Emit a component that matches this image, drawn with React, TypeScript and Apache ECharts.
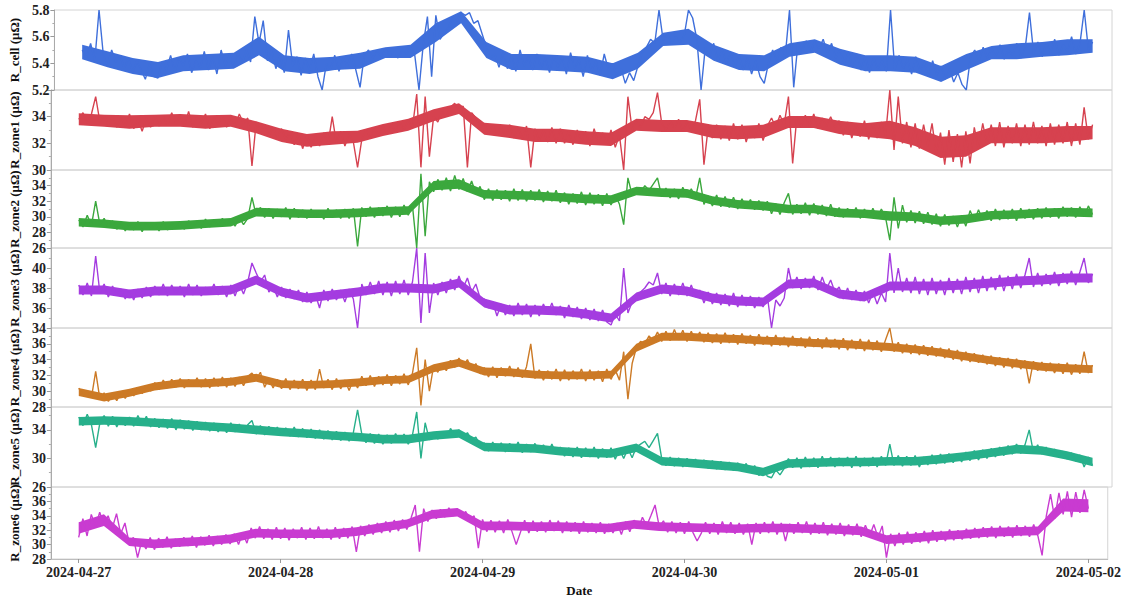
import React, { useEffect, useRef } from "react";
import * as echarts from "echarts";

// Sampling: every 30 minutes from 2024-04-27 00:00 to 2024-05-02 00:00 (241 points)
const dayLabels = ["2024-04-27", "2024-04-28", "2024-04-29", "2024-04-30", "2024-05-01", "2024-05-02"];

const rCell = [
  5.50, 5.44, 5.55, 5.42, 5.80, 5.47, 5.38, 5.50, 5.41, 5.46, 5.36, 5.44,
  5.33, 5.42, 5.35, 5.28, 5.40, 5.30, 5.29, 5.41, 5.35, 5.46, 5.34, 5.44,
  5.38, 5.47, 5.33, 5.42, 5.36, 5.49, 5.35, 5.45, 5.32, 5.50, 5.38, 5.46,
  5.37, 5.48, 5.40, 5.50, 5.41, 5.75, 5.55, 5.72, 5.42, 5.50, 5.36, 5.46,
  5.33, 5.65, 5.38, 5.45, 5.31, 5.44, 5.35, 5.47, 5.30, 5.20, 5.40, 5.36,
  5.46, 5.34, 5.44, 5.38, 5.47, 5.35, 5.22, 5.46, 5.50, 5.44, 5.49, 5.45,
  5.51, 5.46, 5.48, 5.44, 5.50, 5.47, 5.52, 5.46, 5.20, 5.54, 5.75, 5.30,
  5.76, 5.58, 5.63, 5.67, 5.74, 5.72, 5.78, 5.76, 5.78, 5.70, 5.72, 5.62,
  5.52, 5.44, 5.47, 5.37, 5.48, 5.36, 5.46, 5.34, 5.50, 5.38, 5.45, 5.35,
  5.47, 5.36, 5.44, 5.33, 5.46, 5.37, 5.45, 5.32, 5.48, 5.36, 5.43, 5.30,
  5.46, 5.34, 5.42, 5.31, 5.47, 5.35, 5.40, 5.30, 5.36, 5.25, 5.33, 5.27,
  5.38, 5.48, 5.52, 5.58, 5.55, 5.80, 5.57, 5.62, 5.55, 5.60, 5.56, 5.61,
  5.80, 5.74, 5.58, 5.20, 5.52, 5.45, 5.55, 5.42, 5.51, 5.40, 5.48, 5.37,
  5.46, 5.35, 5.44, 5.32, 5.42, 5.30, 5.25, 5.40, 5.50, 5.42, 5.52, 5.46,
  5.80, 5.22, 5.55, 5.50, 5.57, 5.49, 5.56, 5.51, 5.58, 5.48, 5.55, 5.44,
  5.50, 5.40, 5.48, 5.37, 5.47, 5.35, 5.45, 5.33, 5.44, 5.36, 5.42, 5.34,
  5.80, 5.35, 5.46, 5.36, 5.43, 5.32, 5.45, 5.34, 5.40, 5.30, 5.42, 5.31,
  5.38, 5.28, 5.36, 5.26, 5.33, 5.24, 5.20, 5.45, 5.50, 5.42, 5.52, 5.44,
  5.51, 5.45, 5.54, 5.43, 5.50, 5.46, 5.55, 5.44, 5.52, 5.78, 5.47, 5.56,
  5.45, 5.55, 5.48, 5.58, 5.46, 5.54, 5.49, 5.60, 5.47, 5.55, 5.80, 5.50,
  5.56,
];

const rZone1 = [
  33.8, 34.3, 33.5, 34.2, 35.5, 33.6, 34.1, 33.4, 34.0, 33.2, 33.9, 33.3,
  34.2, 33.1, 33.8, 32.9, 33.9, 33.2, 34.1, 33.3, 34.0, 33.4, 34.3, 33.5,
  34.1, 33.3, 34.4, 33.2, 34.0, 33.5, 34.2, 33.1, 33.9, 33.4, 34.1, 33.2,
  34.0, 33.3, 34.2, 33.5, 33.9, 30.3, 33.6, 32.9, 33.4, 32.6, 33.2, 32.5,
  33.1, 32.3, 32.8, 31.9, 32.7, 31.6, 32.6, 31.7, 32.5, 31.8, 32.8, 31.9,
  34.0, 32.0, 32.9, 31.8, 32.7, 32.1, 30.2, 32.3, 33.0, 32.4, 33.1, 32.6,
  33.3, 32.7, 33.4, 32.9, 33.6, 33.0, 33.7, 33.2, 35.7, 30.2, 35.5, 31.0,
  34.0, 33.6, 34.4, 34.0, 34.7, 35.0, 34.5, 34.8, 30.2, 34.3, 33.9, 33.2,
  33.5, 32.7, 33.4, 32.6, 33.3, 32.5, 33.4, 32.4, 33.2, 32.3, 33.3, 30.2,
  33.1, 32.2, 33.0, 32.1, 33.2, 32.0, 33.1, 32.0, 32.9, 31.9, 33.0, 32.1,
  32.9, 31.8, 33.1, 32.0, 32.8, 31.9, 33.0, 31.7, 32.6, 30.0, 35.5, 33.0,
  33.6, 33.2, 34.0, 33.8, 34.3, 35.8, 33.5, 33.0, 33.7, 33.1, 33.8, 32.9,
  33.6, 33.0, 33.7, 35.3, 30.4, 33.2, 32.4, 33.4, 32.3, 33.3, 32.2, 33.5,
  32.3, 33.4, 32.1, 33.2, 32.4, 33.5, 32.2, 33.3, 33.9, 33.2, 34.1, 33.4,
  35.5, 30.5, 34.0, 33.2, 34.1, 33.3, 34.2, 33.1, 33.9, 33.3, 34.0, 33.2,
  33.7, 32.6, 33.6, 32.4, 33.5, 32.5, 33.7, 32.3, 33.5, 32.4, 33.6, 32.6,
  36.0, 31.5, 35.5, 32.0, 33.6, 31.7, 33.5, 31.6, 33.4, 31.8, 33.5, 31.2,
  32.8, 30.4, 33.0, 30.6, 32.7, 30.2, 32.9, 30.5, 33.2, 31.6, 33.5, 31.9,
  33.4, 31.8, 33.6, 31.7, 33.3, 32.0, 33.5, 31.8, 33.4, 31.9, 33.6, 32.0,
  33.3, 31.8, 33.5, 31.9, 33.4, 32.0, 33.6, 31.8, 33.5, 31.9, 34.7, 32.3,
  33.4,
];

const rZone2 = [
  29.6, 28.7, 30.2, 28.9, 32.0, 29.0, 29.8, 28.6, 29.5, 28.4, 29.3, 28.2,
  29.2, 28.3, 29.4, 28.1, 29.3, 28.4, 29.1, 28.2, 29.4, 28.3, 29.2, 28.5,
  29.3, 28.4, 29.5, 28.6, 29.4, 28.5, 29.7, 28.7, 29.6, 28.8, 29.8, 28.9,
  29.7, 28.8, 29.9, 29.0, 29.8, 32.5, 30.2, 31.2, 29.9, 31.1, 29.8, 31.0,
  30.0, 31.2, 29.7, 31.1, 29.9, 30.9, 29.8, 31.0, 29.9, 30.8, 29.7, 31.1,
  29.9, 30.9, 29.8, 31.0, 29.8, 31.1, 26.2, 31.2, 30.0, 31.3, 29.9, 31.2,
  30.1, 31.4, 29.9, 31.3, 30.0, 31.5, 30.2, 31.4, 26.0, 35.5, 27.5, 34.5,
  33.2, 34.8, 33.4, 35.0, 33.3, 35.3, 33.5, 34.9, 33.2, 34.6, 33.0, 33.9,
  32.2, 33.6, 32.1, 33.5, 32.2, 33.4, 32.0, 33.6, 32.1, 33.5, 32.0, 33.4,
  32.1, 33.5, 31.9, 33.3, 32.0, 33.4, 31.8, 33.1, 31.6, 33.0, 31.7, 33.2,
  31.5, 33.1, 31.6, 32.9, 31.4, 33.0, 31.5, 32.8, 31.6, 29.0, 35.0, 32.8,
  33.5, 33.1, 34.0, 33.4, 34.2, 35.0, 32.6, 33.7, 32.4, 33.6, 32.3, 33.8,
  32.5, 33.6, 32.4, 35.0, 31.6, 32.7, 31.4, 32.8, 31.3, 32.6, 31.2, 32.5,
  31.0, 32.3, 31.1, 32.2, 30.9, 32.1, 30.8, 32.0, 30.4, 31.7, 30.3, 31.8,
  33.0, 30.3, 31.6, 30.4, 31.8, 30.2, 31.7, 30.3, 31.5, 30.1, 31.6, 30.0,
  31.2, 29.9, 31.1, 30.0, 31.2, 29.8, 31.0, 29.9, 31.1, 29.8, 31.0, 29.9,
  27.0, 32.5, 28.5, 31.5, 29.3, 30.8, 29.2, 30.7, 29.1, 30.6, 29.0, 30.4,
  28.8, 30.3, 28.9, 30.1, 28.7, 30.2, 28.8, 30.8, 29.5, 30.9, 29.6, 30.8,
  29.5, 31.0, 29.6, 30.9, 29.7, 31.0, 29.5, 31.1, 29.8, 31.0, 29.7, 31.1,
  29.8, 31.2, 29.9, 31.1, 29.8, 31.3, 30.0, 31.2, 29.9, 31.3, 30.0, 31.4,
  30.3,
];

const rZone3 = [
  38.3, 37.3, 38.5, 37.2, 41.2, 37.5, 38.4, 37.1, 38.2, 37.3, 37.9, 36.9,
  37.8, 36.8, 37.9, 37.0, 38.1, 37.1, 38.2, 37.3, 38.4, 37.2, 38.3, 37.4,
  38.2, 37.1, 38.4, 37.3, 38.3, 37.2, 38.1, 37.4, 38.4, 37.3, 38.2, 37.1,
  38.3, 37.2, 38.4, 37.4, 38.6, 40.5, 39.5, 38.6, 39.3, 37.6, 38.2, 37.1,
  38.1, 37.0, 37.9, 36.9, 37.8, 36.6, 37.6, 36.5, 37.4, 36.0, 37.8, 36.7,
  37.9, 36.8, 37.8, 36.6, 37.9, 36.9, 34.0, 38.4, 37.3, 38.6, 37.4, 38.7,
  37.3, 38.6, 37.2, 38.7, 37.4, 38.8, 37.3, 38.6, 42.0, 34.5, 41.5, 35.5,
  38.5, 37.3, 38.6, 37.5, 38.9, 37.8, 39.2, 38.0, 39.0, 37.6, 38.4, 37.0,
  36.9, 36.0, 36.6, 35.2, 36.4, 35.3, 36.3, 35.2, 36.5, 35.3, 36.4, 35.1,
  36.3, 35.2, 36.4, 35.4, 36.5, 35.3, 36.2, 35.0, 36.3, 35.1, 36.1, 34.9,
  36.0, 34.8, 35.9, 34.7, 35.8, 34.6, 34.3, 35.4, 34.7, 40.0, 35.5, 36.6,
  37.0, 37.6, 38.0, 38.6, 38.3, 39.5, 37.4, 38.5, 37.2, 38.4, 37.3, 38.5,
  37.2, 38.3, 37.1, 37.8, 36.5, 37.6, 36.4, 37.5, 36.3, 37.4, 36.2, 37.5,
  36.1, 37.3, 36.2, 37.2, 36.0, 37.1, 36.1, 37.2, 34.0, 36.8, 36.2, 37.0,
  40.0, 38.0, 39.1, 37.9, 39.0, 38.0, 39.2, 37.8, 39.1, 37.9, 38.8, 37.6,
  38.1, 36.9, 38.0, 36.8, 37.8, 36.7, 37.7, 36.5, 37.6, 36.4, 37.5, 36.6,
  41.5, 37.5, 40.0, 37.6, 39.0, 37.5, 39.1, 37.4, 38.9, 37.3, 39.0, 37.4,
  38.8, 37.3, 39.0, 37.5, 38.9, 37.4, 39.1, 37.6, 39.0, 37.5, 39.2, 37.7,
  39.1, 37.8, 39.3, 37.7, 39.2, 37.9, 39.4, 38.0, 39.3, 41.0, 38.1, 39.5,
  38.2, 39.4, 38.3, 39.6, 38.2, 39.5, 38.4, 39.7, 38.3, 39.6, 41.0, 38.5,
  39.4,
];

const rZone4 = [
  30.4, 29.5, 30.0, 29.2, 32.5, 29.0, 29.8, 28.7, 29.6, 28.8, 29.9, 29.1,
  30.1, 29.4, 30.4, 29.7, 30.7, 30.0, 31.1, 30.2, 31.4, 30.4, 31.5, 30.5,
  31.6, 30.4, 31.5, 30.6, 31.7, 30.5, 31.6, 30.4, 31.7, 30.6, 31.8, 30.5,
  31.7, 30.6, 31.8, 30.7, 31.9, 32.3, 31.5, 32.4, 30.5, 31.6, 30.4, 31.5,
  30.3, 31.6, 30.2, 31.4, 30.3, 31.5, 30.1, 31.4, 30.2, 32.8, 30.4, 31.5,
  30.2, 31.6, 30.3, 31.4, 30.1, 31.5, 30.4, 31.9, 30.7, 32.0, 30.6, 31.9,
  30.8, 32.1, 30.7, 32.0, 30.9, 32.2, 30.8, 32.3, 35.5, 28.2, 34.0, 30.0,
  33.2, 32.4, 33.5, 32.6, 33.9, 33.0, 34.2, 33.2, 34.0, 32.8, 33.5, 32.2,
  33.0, 31.8, 33.1, 31.7, 33.0, 31.9, 33.2, 31.8, 33.0, 31.7, 33.1, 36.0,
  31.6, 32.7, 31.4, 32.6, 31.5, 32.8, 31.3, 32.7, 31.4, 32.6, 31.5, 32.8,
  31.3, 32.7, 31.4, 32.6, 31.2, 32.8, 31.5, 32.7, 31.4, 35.0, 29.0, 33.5,
  35.5, 36.3, 36.0, 37.0, 36.4, 37.5, 36.3, 37.6, 36.4, 37.8, 36.5, 37.7,
  36.3, 37.6, 36.4, 37.5, 36.2, 37.4, 36.1, 37.3, 36.0, 37.4, 36.1, 37.2,
  35.9, 37.3, 36.0, 37.1, 35.8, 37.2, 35.9, 37.0, 35.7, 37.1, 35.8, 36.9,
  35.6, 37.0, 35.7, 36.8, 35.5, 36.9, 35.6, 36.7, 35.4, 36.8, 35.5, 36.6,
  35.3, 36.7, 35.2, 36.5, 35.3, 36.6, 35.1, 36.5, 35.2, 36.4, 35.0, 36.5,
  38.0, 35.0, 36.2, 34.8, 36.0, 34.7, 35.9, 34.6, 35.8, 34.5, 35.7, 34.4,
  35.5, 34.2, 35.4, 34.0, 35.2, 33.8, 35.0, 33.7, 34.8, 33.6, 34.6, 33.4,
  34.5, 33.2, 34.3, 33.0, 34.2, 32.9, 34.1, 32.8, 33.9, 31.0, 33.8, 32.6,
  33.7, 32.5, 33.6, 32.3, 33.5, 32.2, 33.6, 32.1, 33.4, 32.2, 35.0, 32.3,
  33.3,
];

const rZone5 = [
  35.8, 34.6, 36.2, 34.7, 31.5, 35.0, 36.0, 34.5, 35.9, 34.4, 35.7, 34.6,
  35.8, 34.5, 36.0, 34.7, 35.9, 34.4, 35.6, 34.3, 35.5, 34.2, 35.6, 34.0,
  35.4, 34.1, 35.3, 33.9, 35.2, 34.0, 35.1, 33.8, 35.0, 33.7, 34.9, 33.6,
  35.0, 33.7, 34.8, 33.6, 34.7, 35.3, 33.4, 34.6, 33.3, 34.5, 33.4, 34.4,
  33.2, 34.3, 33.1, 34.4, 33.0, 34.2, 32.9, 34.1, 32.8, 34.0, 32.7, 33.9,
  32.6, 33.8, 32.5, 33.7, 32.4, 33.6, 36.8, 33.4, 32.2, 33.5, 32.1, 33.4,
  32.0, 33.3, 32.1, 33.5, 32.2, 33.4, 32.0, 33.3, 36.5, 30.0, 35.0, 32.6,
  33.6, 32.7, 33.8, 32.9, 34.2, 33.2, 34.0, 33.0, 33.6, 32.6, 33.0, 31.8,
  32.2, 31.0, 32.3, 31.1, 32.2, 30.9, 32.1, 31.0, 32.3, 30.8, 32.0, 30.9,
  32.1, 30.8, 31.9, 30.7, 32.0, 30.6, 31.6, 30.3, 31.5, 30.2, 31.6, 30.1,
  31.5, 30.2, 31.6, 30.0, 31.4, 30.1, 31.5, 29.9, 31.3, 30.0, 31.4, 30.1,
  31.6, 32.0, 32.4, 31.5, 32.5, 33.5, 30.0, 29.0, 30.2, 28.9, 30.1, 28.8,
  30.0, 28.9, 29.9, 28.7, 29.8, 28.6, 29.7, 28.5, 29.6, 28.4, 29.5, 28.3,
  29.4, 28.2, 29.3, 28.0, 29.0, 27.6, 28.6, 27.5, 27.3, 28.4, 27.7, 28.6,
  30.0, 28.7, 30.1, 28.6, 30.2, 28.8, 30.1, 28.7, 30.3, 28.9, 30.2, 28.8,
  30.1, 28.9, 30.2, 28.7, 30.3, 28.8, 30.1, 28.9, 30.2, 28.8, 30.3, 29.0,
  32.0, 29.0, 30.4, 28.9, 30.3, 29.0, 30.4, 28.8, 30.2, 29.1, 30.5, 29.2,
  30.6, 29.3, 30.7, 29.4, 30.6, 29.5, 30.9, 29.7, 31.1, 29.8, 31.2, 30.0,
  31.4, 30.2, 31.6, 30.4, 31.8, 30.6, 32.0, 30.7, 31.9, 34.0, 30.8, 31.9,
  30.6, 31.6, 30.4, 31.3, 30.2, 31.0, 29.9, 30.8, 29.6, 30.5, 28.8, 30.2,
  29.0,
];

const rZone6 = [
  31.0, 33.6, 31.2, 34.2, 32.5, 34.5, 32.8, 34.0, 32.3, 34.3, 31.5, 33.0,
  30.2, 31.0, 28.2, 30.5, 29.4, 31.0, 29.3, 30.9, 29.6, 31.1, 29.5, 30.8,
  29.7, 31.0, 29.8, 31.2, 29.6, 31.1, 29.9, 31.3, 29.8, 31.2, 30.0, 31.4,
  30.1, 31.5, 30.0, 31.6, 30.2, 32.3, 30.9, 32.5, 30.8, 32.2, 30.7, 32.4,
  30.8, 32.3, 30.6, 32.2, 30.9, 32.4, 30.7, 32.3, 30.8, 32.5, 30.9, 32.2,
  30.7, 32.4, 30.8, 32.3, 30.9, 32.5, 29.0, 32.6, 31.2, 32.8, 31.4, 33.0,
  31.6, 33.2, 31.7, 33.4, 31.9, 33.5, 32.1, 33.7, 35.5, 29.0, 35.0, 33.2,
  34.8, 33.6, 34.9, 33.8, 35.1, 34.0, 35.0, 33.9, 34.6, 33.4, 34.0, 29.5,
  33.5, 31.8, 33.4, 31.7, 33.3, 31.6, 33.5, 31.8, 30.0, 31.7, 33.4, 31.6,
  33.3, 31.8, 33.2, 31.7, 33.4, 31.9, 33.3, 31.6, 33.2, 31.8, 33.1, 31.5,
  33.2, 31.7, 33.0, 31.6, 33.1, 31.5, 32.9, 31.6, 33.0, 31.4, 33.2, 31.8,
  33.4, 32.2, 33.8, 32.6, 34.0, 35.5, 32.5, 33.3, 31.7, 33.2, 31.6, 33.1,
  31.5, 33.2, 31.7, 30.5, 31.6, 33.1, 31.5, 33.0, 31.4, 33.2, 31.6, 33.1,
  31.5, 33.0, 31.4, 32.9, 30.0, 33.0, 31.5, 33.1, 31.6, 33.2, 31.4, 33.0,
  30.5, 32.9, 31.5, 33.1, 31.6, 33.2, 31.4, 33.0, 31.5, 33.1, 31.3, 32.9,
  31.4, 33.0, 31.2, 32.8, 31.3, 32.9, 31.1, 32.7, 31.2, 32.8, 31.0, 32.6,
  28.2, 31.5, 29.8, 31.6, 30.0, 31.8, 30.1, 31.7, 30.3, 31.9, 30.2, 32.0,
  30.4, 31.9, 30.5, 32.1, 30.6, 32.0, 30.7, 32.2, 30.8, 32.3, 30.9, 32.4,
  31.0, 32.5, 30.9, 32.6, 31.1, 32.5, 31.0, 32.7, 31.2, 32.6, 31.1, 32.8,
  31.2, 28.5, 34.0, 37.0, 33.6, 37.2, 34.2, 37.4, 33.8, 37.3, 34.4, 37.6,
  35.0,
];

// Dense-noise ribbon envelope (core of each trace), read every 3 hours (41 points)
const cellLo = [5.43, 5.37, 5.32, 5.29, 5.34, 5.35, 5.36, 5.46, 5.34, 5.32, 5.35, 5.36, 5.44, 5.44, 5.56, 5.70, 5.44, 5.35, 5.35, 5.34, 5.33, 5.28, 5.36, 5.53, 5.54, 5.42, 5.35, 5.34, 5.45, 5.48, 5.39, 5.34, 5.34, 5.33, 5.26, 5.35, 5.43, 5.43, 5.45, 5.46, 5.48];
const cellHi = [5.54, 5.49, 5.44, 5.41, 5.46, 5.47, 5.48, 5.60, 5.46, 5.44, 5.45, 5.48, 5.52, 5.54, 5.70, 5.79, 5.56, 5.47, 5.47, 5.46, 5.45, 5.40, 5.48, 5.63, 5.66, 5.54, 5.47, 5.46, 5.55, 5.58, 5.51, 5.46, 5.46, 5.45, 5.38, 5.47, 5.53, 5.55, 5.56, 5.58, 5.58];
const zone1Lo = [33.35, 33.25, 33.1, 33.25, 33.25, 33.1, 33.25, 32.75, 32.1, 31.75, 31.9, 32.05, 32.55, 32.95, 33.65, 34.2, 32.65, 32.4, 32.1, 32.1, 31.9, 31.8, 32.95, 32.85, 32.85, 32.4, 32.3, 32.4, 33.15, 33.15, 32.7, 32.5, 32.3, 31.8, 30.9, 31.0, 32.0, 32.0, 32.0, 32.1, 32.3];
const zone1Hi = [34.25, 34.15, 34.1, 34.15, 34.2, 34.1, 34.15, 33.65, 33.1, 32.7, 32.9, 32.95, 33.45, 33.85, 34.55, 35.0, 33.55, 33.4, 33.1, 33.1, 32.9, 32.8, 33.85, 33.75, 33.75, 33.4, 33.3, 33.4, 34.05, 34.05, 33.7, 33.5, 33.7, 33.2, 32.5, 32.6, 33.2, 33.2, 33.2, 33.3, 33.3];
const zone2Lo = [28.75, 28.55, 28.25, 28.25, 28.35, 28.55, 28.75, 30.05, 29.95, 29.85, 29.85, 29.95, 30.15, 30.25, 33.4, 33.6, 32.35, 32.25, 32.15, 31.95, 31.75, 31.65, 32.75, 32.55, 32.45, 31.55, 31.05, 30.85, 30.45, 30.45, 29.95, 29.85, 29.5, 29.45, 28.95, 29.15, 29.65, 29.75, 29.95, 30.05, 29.95];
const zone2Hi = [29.85, 29.65, 29.35, 29.35, 29.45, 29.65, 29.85, 31.15, 31.05, 30.95, 30.95, 31.05, 31.25, 31.35, 34.6, 34.8, 33.45, 33.35, 33.25, 33.05, 32.85, 32.75, 33.85, 33.65, 33.55, 32.65, 32.15, 31.95, 31.55, 31.55, 31.05, 30.95, 30.7, 30.55, 30.05, 30.25, 30.75, 30.85, 31.05, 31.15, 31.05];
const zone3Lo = [37.35, 37.35, 36.95, 37.25, 37.25, 37.25, 37.35, 38.35, 37.15, 36.55, 36.85, 37.15, 37.55, 37.55, 37.45, 38.05, 36.05, 35.35, 35.35, 35.25, 34.95, 34.55, 36.65, 37.45, 37.25, 36.55, 36.25, 36.15, 37.95, 38.05, 36.95, 36.65, 37.75, 37.75, 37.75, 37.85, 38.05, 38.25, 38.35, 38.55, 38.55];
const zone3Hi = [38.25, 38.25, 37.85, 38.15, 38.15, 38.15, 38.25, 39.25, 38.05, 37.45, 37.75, 38.05, 38.45, 38.45, 38.35, 38.95, 36.95, 36.25, 36.25, 36.15, 35.85, 35.45, 37.55, 38.35, 38.15, 37.45, 37.15, 37.05, 38.85, 38.95, 37.85, 37.55, 38.65, 38.65, 38.65, 38.75, 38.95, 39.15, 39.25, 39.45, 39.45];
const zone4Lo = [29.4, 28.7, 29.3, 30.1, 30.5, 30.5, 30.7, 31.2, 30.4, 30.3, 30.4, 30.6, 30.9, 31.0, 32.4, 33.1, 32.0, 31.9, 31.6, 31.5, 31.5, 31.6, 35.0, 36.4, 36.4, 36.2, 36.1, 35.9, 35.8, 35.6, 35.5, 35.3, 35.1, 34.8, 34.4, 33.9, 33.4, 33.0, 32.6, 32.4, 32.3];
const zone4Hi = [30.4, 29.7, 30.3, 31.1, 31.5, 31.5, 31.7, 32.2, 31.4, 31.3, 31.4, 31.6, 31.9, 32.0, 33.4, 34.1, 33.0, 32.9, 32.6, 32.5, 32.5, 32.6, 36.0, 37.4, 37.4, 37.2, 37.1, 36.9, 36.8, 36.6, 36.5, 36.3, 36.1, 35.8, 35.4, 34.9, 34.4, 34.0, 33.6, 33.4, 33.3];
const zone5Lo = [34.6, 34.7, 34.6, 34.4, 34.2, 33.9, 33.7, 33.4, 33.1, 32.9, 32.6, 32.4, 32.1, 32.1, 32.6, 32.9, 31.0, 30.9, 30.8, 30.4, 30.2, 30.1, 30.9, 29.0, 28.8, 28.5, 28.2, 27.5, 28.7, 28.8, 28.9, 28.9, 29.0, 29.0, 29.3, 29.7, 30.2, 30.7, 30.5, 29.8, 28.9];
const zone5Hi = [35.8, 35.9, 35.8, 35.6, 35.4, 35.1, 34.9, 34.6, 34.3, 34.1, 33.8, 33.6, 33.3, 33.3, 33.8, 34.1, 32.2, 32.1, 32.0, 31.6, 31.4, 31.3, 32.1, 30.2, 30.0, 29.7, 29.4, 28.7, 29.9, 30.0, 30.1, 30.1, 30.2, 30.2, 30.5, 30.9, 31.4, 31.9, 31.7, 31.0, 30.1];
const zone6Lo = [31.5, 32.6, 29.8, 29.5, 29.7, 29.9, 30.2, 31.0, 30.9, 30.9, 30.9, 31.2, 31.8, 32.3, 33.6, 33.9, 32.0, 32.0, 31.9, 31.9, 31.8, 31.7, 32.2, 31.9, 31.8, 31.7, 31.6, 31.7, 31.7, 31.6, 31.5, 31.3, 30.1, 30.3, 30.6, 30.8, 31.1, 31.2, 31.3, 34.6, 34.5];
const zone6Hi = [33.1, 34.2, 31.0, 30.7, 30.9, 31.1, 31.4, 32.2, 32.1, 32.1, 32.1, 32.4, 33.0, 33.5, 34.8, 35.1, 33.2, 33.2, 33.1, 33.1, 33.0, 32.9, 33.4, 33.1, 33.0, 32.9, 32.8, 32.9, 32.9, 32.8, 32.7, 32.5, 31.3, 31.5, 31.8, 32.0, 32.3, 32.4, 32.5, 36.4, 36.3];

const panelNames = ["R_cell (μΩ)", "R_zone1 (μΩ)", "R_zone2 (μΩ)", "R_zone3 (μΩ)", "R_zone4 (μΩ)", "R_zone5 (μΩ)", "R_zone6 (μΩ)"];
const panelData = [rCell, rZone1, rZone2, rZone3, rZone4, rZone5, rZone6];
const panelLo = [cellLo, zone1Lo, zone2Lo, zone3Lo, zone4Lo, zone5Lo, zone6Lo];
const panelHi = [cellHi, zone1Hi, zone2Hi, zone3Hi, zone4Hi, zone5Hi, zone6Hi];
const panelMin = [5.2, 30, 26, 34, 28, 26, 28];
const panelMax = [5.8, 36, 36, 42, 38, 37.2, 38];
const panelInterval = [0.2, 2, 2, 2, 2, 4, 2];
const panelColors = ["#3f6fdb", "#d6424f", "#3ba83d", "#a43ce0", "#cc7a26", "#27b08b", "#c93bd1"];
const gridTops = [10, 90, 170, 248, 328, 407, 487];
const gridHeights = [80, 80, 78, 80, 79, 80, 80];

const FONT = "'Liberation Serif', 'Times New Roman', serif";

export default function App() {
  const ref = useRef<HTMLDivElement>(null);
  useEffect(() => {
    document.body.style.margin = "0";
    if (!ref.current) return;
    const chart = echarts.init(ref.current, null, { renderer: "svg" });

    const dayTicks = dayLabels.map((s) => {
      const [y, m, d] = s.split("-").map(Number);
      return new Date(y, m - 1, d).getTime();
    });
    const start = dayTicks[0];
    const hour = 3600 * 1000;
    const step = 0.5 * hour;
    const bandStep = 3 * hour;
    const xMin = start - 3.3 * hour;
    const xMax = dayTicks[dayTicks.length - 1] + 2.3 * hour;

    const n = panelNames.length;
    const grids: any[] = [];
    const xAxes: any[] = [];
    const yAxes: any[] = [];
    const series: any[] = [];
    for (let i = 0; i < n; i++) {
      const isBottom = i === n - 1;
      grids.push({
        left: 48,
        right: 12,
        top: gridTops[i],
        height: gridHeights[i],
        show: true,
        borderColor: "#d4d4d4",
        borderWidth: 1,
      });
      xAxes.push({
        type: "value",
        gridIndex: i,
        min: xMin,
        max: xMax,
        splitLine: { show: false },
        axisLine: { show: isBottom, onZero: false, lineStyle: { color: "#bdbdbd" } },
        axisTick: {
          show: isBottom,
          customValues: dayTicks,
          length: 4,
          lineStyle: { color: "#999" },
        },
        axisLabel: {
          show: isBottom,
          customValues: dayTicks,
          formatter: (v: number) => {
            const k = dayTicks.indexOf(v);
            return k >= 0 ? dayLabels[k] : "";
          },
          fontFamily: FONT,
          fontWeight: "bold",
          fontSize: 14,
          color: "#222",
          margin: 6,
        },
        name: isBottom ? "Date" : "",
        nameLocation: "middle",
        nameGap: 25,
        nameTextStyle: { fontFamily: FONT, fontWeight: "bold", fontSize: 13, color: "#111" },
      });
      yAxes.push({
        type: "value",
        gridIndex: i,
        min: panelMin[i],
        max: panelMax[i],
        interval: panelInterval[i],
        splitLine: { show: false },
        axisLine: { show: true, lineStyle: { color: "#aaaaaa" } },
        axisTick: { show: true, length: 4, lineStyle: { color: "#999" } },
        minorTick: { show: true, splitNumber: 2, length: 2, lineStyle: { color: "#aaa" } },
        axisLabel: {
          showMaxLabel: i === 0,
          fontFamily: FONT,
          fontWeight: "bold",
          fontSize: 14,
          color: "#222",
          margin: 5,
          formatter: (v: number) => (i === 0 ? v.toFixed(1) : String(Math.round(v))),
        },
        name: panelNames[i],
        nameLocation: "middle",
        nameGap: 29,
        nameRotate: 90,
        nameTextStyle: { fontFamily: FONT, fontWeight: "bold", fontSize: 13, color: "#111" },
      });
      const lo = panelLo[i];
      const hi = panelHi[i];
      const color = panelColors[i];
      series.push({
        type: "custom",
        xAxisIndex: i,
        yAxisIndex: i,
        coordinateSystem: "cartesian2d",
        silent: true,
        z: 1,
        data: [[start, panelMin[i]]],
        renderItem: (_params: any, api: any) => {
          const top = hi.map((v, k) => api.coord([start + k * bandStep, v]));
          const bottom = lo.map((v, k) => api.coord([start + k * bandStep, v])).reverse();
          return {
            type: "polygon",
            shape: { points: top.concat(bottom) },
            style: { fill: color, opacity: 1 },
          };
        },
      });
      series.push({
        type: "line",
        xAxisIndex: i,
        yAxisIndex: i,
        showSymbol: false,
        symbol: "none",
        clip: true,
        z: 2,
        lineStyle: { color, width: 1.4, join: "bevel" },
        itemStyle: { color },
        data: panelData[i].map((v, k) => [start + k * step, v]),
      });
    }

    chart.setOption({
      animation: false,
      backgroundColor: "#ffffff",
      grid: grids,
      xAxis: xAxes,
      yAxis: yAxes,
      series,
    });
    return () => chart.dispose();
  }, []);
  return <div ref={ref} style={{ width: 1124, height: 598 }} />;
}
